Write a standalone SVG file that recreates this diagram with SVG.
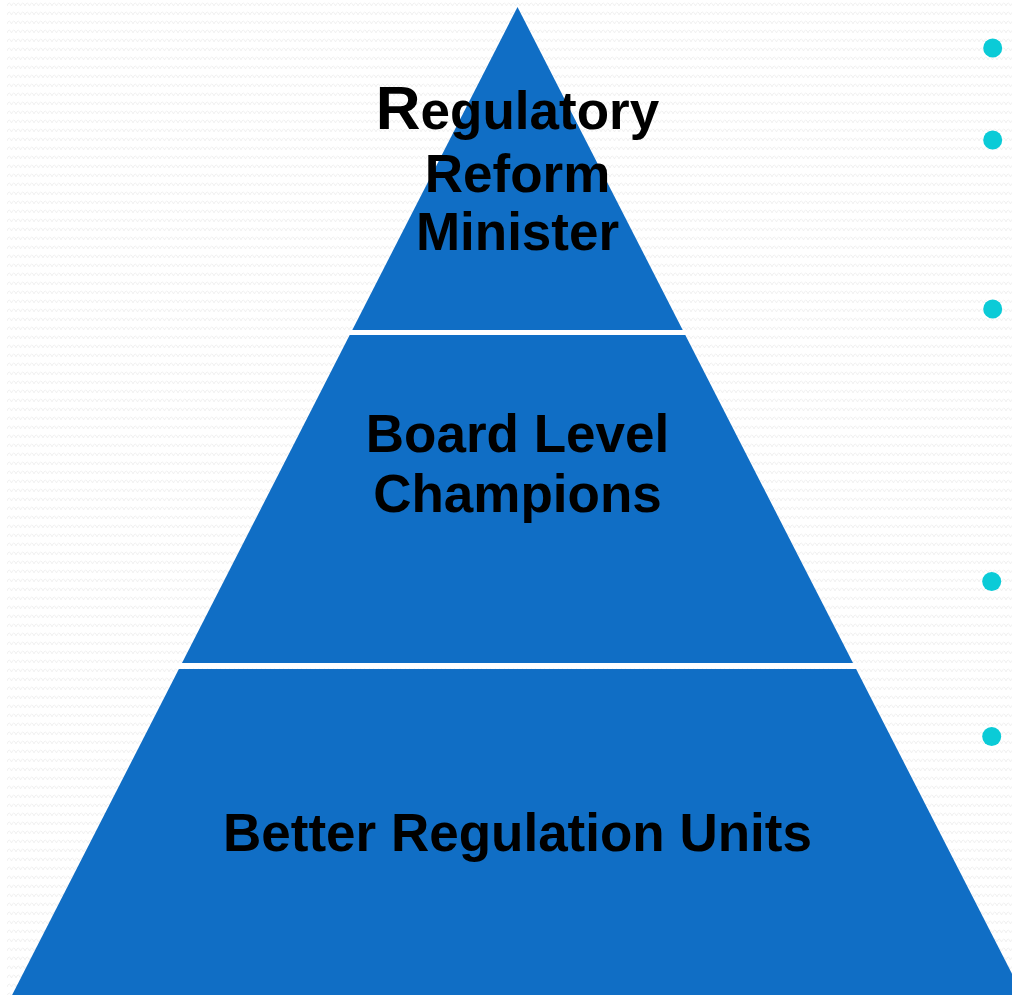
<svg xmlns="http://www.w3.org/2000/svg" width="1012" height="995" viewBox="0 0 1012 995">
  <defs>
    <pattern id="zig" x="7" y="0" width="9" height="9" patternUnits="userSpaceOnUse">
      <path d="M0,6 Q1.1,3 2.25,3 Q3.4,3 4.5,6 Q5.6,3 6.75,3 Q7.9,3 9,6" fill="none" stroke="#f0f0f0" stroke-width="1"/>
    </pattern>
  </defs>
  <style>
    .tier { fill: #106ec5; }
    .lbl { font-family: "Liberation Sans", Arial, sans-serif; font-weight: bold; font-size: 53px; fill: #000000; text-anchor: middle; }
    .dot { fill: #0bcbd7; }
  </style>
  <rect width="1012" height="995" fill="#ffffff"/>
  <rect x="7" y="0" width="1005" height="995" fill="url(#zig)"/>

  <g id="tier-top">
    <polygon class="tier" points="517.5,7 682.7,330 352.3,330"/>
    <text class="lbl" x="517.5" y="129"><tspan font-size="62">R</tspan>egulatory</text>
    <text class="lbl" x="517.5" y="192">Reform</text>
    <text class="lbl" x="517.5" y="250">Minister</text>
  </g>

  <g id="tier-middle">
    <polygon class="tier" points="349.7,335 685.3,335 853,663 182,663"/>
    <text class="lbl" x="517.5" y="452">Board Level</text>
    <text class="lbl" x="517.5" y="512">Champions</text>
  </g>

  <g id="tier-bottom">
    <polygon class="tier" points="178.9,669 856.1,669 1022.9,995 12.1,995"/>
    <text class="lbl" x="517.5" y="851">Better Regulation Units</text>
  </g>

  <g id="bullets">
    <circle class="dot" cx="992.7" cy="48" r="9.5"/>
    <circle class="dot" cx="992.7" cy="140" r="9.5"/>
    <circle class="dot" cx="992.7" cy="309" r="9.5"/>
    <circle class="dot" cx="991.7" cy="581.5" r="9.5"/>
    <circle class="dot" cx="991.7" cy="736.5" r="9.5"/>
  </g>
</svg>
